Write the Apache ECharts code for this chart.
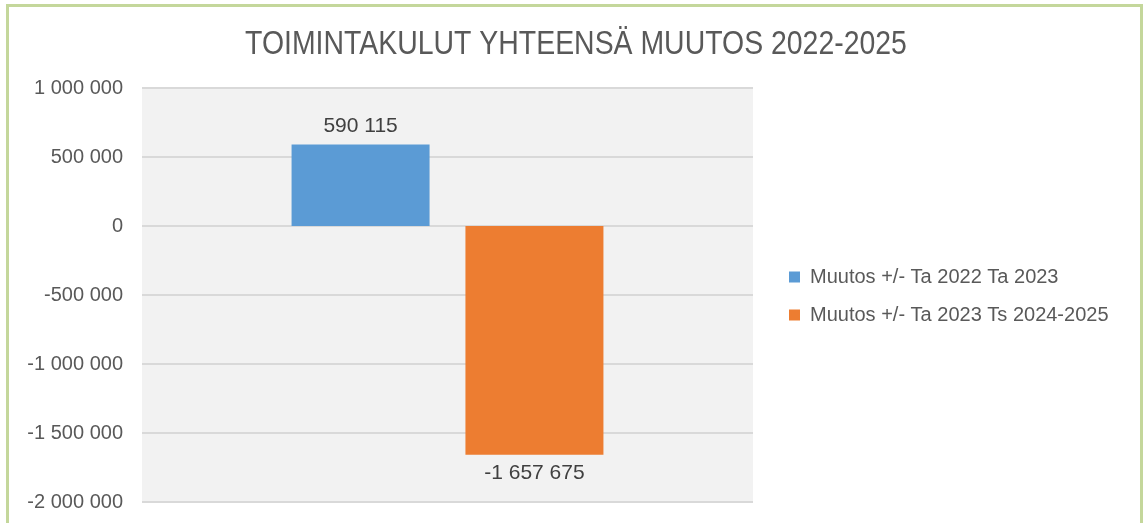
<!DOCTYPE html>
<html>
<head>
<meta charset="utf-8">
<script src="https://cdn.jsdelivr.net/npm/echarts@6/dist/echarts.min.js"></script>
<style>
  html, body { margin: 0; padding: 0; background: #fff; }
  #frame {
    position: absolute; left: 6px; top: 4px; width: 1137px; height: 540px;
    border: 3px solid #c4d79b; box-sizing: border-box;
  }
  #chart { position: absolute; left: 0; top: 0; width: 1144px; height: 523px; }
</style>
</head>
<body>
<div id="frame"></div>
<div id="chart"></div>
<script>
const title = 'TOIMINTAKULUT YHTEENSÄ MUUTOS 2022-2025'
const categories = ['']
const seriesNames = ['Muutos +/- Ta 2022 Ta 2023', 'Muutos +/- Ta 2023 Ts 2024-2025']
const change2022to2023 = [590115]
const change2023to2025 = [-1657675]
const colors = ['#5b9bd5', '#ed7d31']

// space as thousands separator, like the original
function fmt(v) {
  const s = String(Math.abs(Math.round(v))).replace(/\B(?=(\d{3})+(?!\d))/g, ' ')
  return (v < 0 ? '-' : '') + s
}

const font = 'Liberation Sans'
const chart = echarts.init(document.getElementById('chart'))

const labelStyle = {
  show: true,
  distance: 8,
  fontFamily: font,
  fontSize: 21,
  color: '#404040',
  formatter: p => fmt(p.value)
}

chart.setOption({
  animation: false,
  // title drawn as graphic text so it can be squeezed like the narrow original font
  graphic: [
    {
      type: 'text',
      x: 576,
      y: 45,
      scaleX: 0.836,
      style: {
        text: title,
        align: 'center',
        verticalAlign: 'middle',
        fontFamily: font,
        fontSize: 34,
        fill: '#595959'
      }
    }
  ],
  legend: {
    orient: 'vertical',
    left: 784,
    top: 262,
    itemWidth: 11,
    itemHeight: 11,
    itemGap: 18,
    icon: 'rect',
    textStyle: {
      fontFamily: font,
      fontSize: 20,
      lineHeight: 20,
      color: '#595959',
      padding: [0, 0, 0, 5]
    }
  },
  grid: {
    left: 142,
    right: 391,
    top: 88,
    bottom: 21,
    show: true,
    backgroundColor: '#f2f2f2',
    borderWidth: 0
  },
  xAxis: {
    type: 'category',
    data: categories,
    axisLine: { show: false },
    axisTick: { show: false },
    axisLabel: { show: false }
  },
  yAxis: {
    type: 'value',
    min: -2000000,
    max: 1000000,
    interval: 500000,
    axisLine: { show: false },
    axisTick: { show: false },
    axisLabel: {
      fontFamily: font,
      fontSize: 20,
      color: '#595959',
      margin: 19,
      formatter: fmt
    },
    splitLine: { lineStyle: { color: '#d9d9d9', width: 2 } }
  },
  series: [
    {
      name: seriesNames[0],
      type: 'bar',
      data: change2022to2023,
      barWidth: 138,
      barGap: '26%',
      itemStyle: { color: colors[0] },
      label: Object.assign({ position: 'top' }, labelStyle)
    },
    {
      name: seriesNames[1],
      type: 'bar',
      data: change2023to2025,
      barWidth: 138,
      itemStyle: { color: colors[1] },
      label: Object.assign({ position: 'bottom' }, labelStyle)
    }
  ]
})
</script>
</body>
</html>
